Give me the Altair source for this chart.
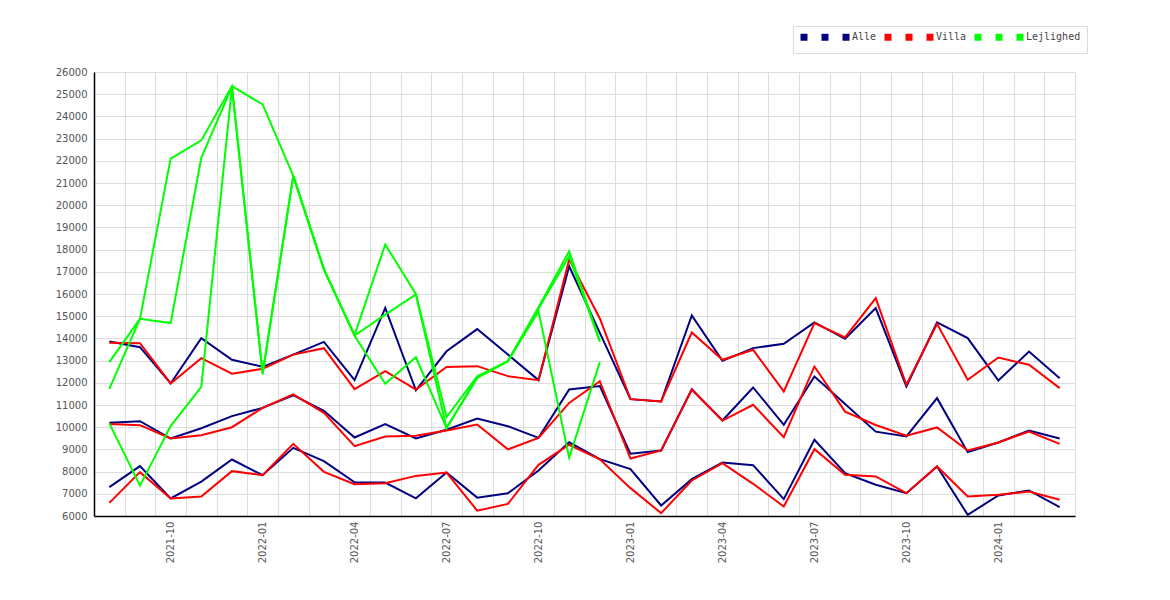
import altair as alt
import pandas as pd

months = [
    "2021-08", "2021-09", "2021-10", "2021-11", "2021-12", "2022-01", "2022-02", "2022-03",
    "2022-04", "2022-05", "2022-06", "2022-07", "2022-08", "2022-09", "2022-10", "2022-11",
    "2022-12", "2023-01", "2023-02", "2023-03", "2023-04", "2023-05", "2023-06", "2023-07",
    "2023-08", "2023-09", "2023-10", "2023-11", "2023-12", "2024-01", "2024-02", "2024-03",
]

alle_top = [13860, 13605, 11970, 14010, 13040, 12720, 13270, 13845, 12120, 15372, 11664, 13420,
            14420, 13270, 12120, 17250, 14250, 11264, 11159, 15033, 12991, 13562, 13757, 14718,
            13982, 15363, 11835, 14718, 14012, 12105, 13411, 12210]
alle_mid = [10196, 10270, 9490, 9955, 10500, 10870, 11440, 10740, 9535, 10141, 9494, 9886,
            10390, 10045, 9519, 11700, 11850, 8802, 8952, 11715, 10300, 11790, 10108, 12285,
            11050, 9800, 9583, 11309, 8877, 9312, 9853, 9492]
alle_low = [7300, 8245, 6790, 7550, 8545, 7840, 9070, 8470, 7515, 7506, 6798, 7958,
            6828, 7024, 8048, 9320, 8560, 8110, 6474, 7661, 8410, 8291, 6760, 9432,
            7931, 7405, 7030, 8231, 6054, 6925, 7150, 6399]

villa_top = [13800, 13785, 11970, 13110, 12410, 12630, 13270, 13560, 11715, 12520, 11694, 12715,
             12750, 12300, 12120, 17550, 14900, 11264, 11159, 14267, 13036, 13487, 11610, 14690,
             14042, 15814, 11910, 14658, 12135, 13141, 12811, 11760]
villa_mid = [10140, 10090, 9490, 9640, 10000, 10870, 11480, 10650, 9145, 9584, 9614, 9855,
             10120, 9000, 9519, 11095, 12070, 8590, 8952, 11685, 10300, 11009, 9553, 12736,
             10700, 10100, 9613, 9988, 8952, 9312, 9808, 9252]
villa_low = [6593, 7975, 6790, 6880, 8020, 7840, 9250, 7990, 7434, 7476, 7807, 7958,
             6241, 6542, 8304, 9210, 8550, 7255, 6129, 7600, 8380, 7450, 6430, 9010,
             7856, 7781, 7030, 8231, 6880, 6955, 7105, 6730]

N = None
lejl_top = [12930, 14880, 22100, 22920, 25360, 24540, 21320, 17110, 14150, 18230, 16000, 10460,
            12290, 12970, 15400, 17930, 13880, N, N, N, N, N, N, N, N, N, N, N, N, N, N, N]
lejl_mid = [11730, 14880, 14690, 22130, 25340, 12450, 21320, 17110, 14130, 15070, 15980, 9960,
            12250, 12970, 15350, 17700, 13850, N, N, N, N, N, N, N, N, N, N, N, N, N, N, N]
lejl_low = [10170, 7370, 10050, 11820, 25320, 12380, 21320, 17110, 14120, 11960, 13150, 9960,
            12220, 12970, 15220, 8630, 12930, N, N, N, N, N, N, N, N, N, N, N, N, N, N, N]

keys = ["A1", "A2", "A3", "V1", "V2", "V3", "L1", "L2", "L3"]
series = {
    "A1": alle_low, "A2": alle_mid, "A3": alle_top,
    "V1": villa_low, "V2": villa_mid, "V3": villa_top,
    "L1": lejl_low, "L2": lejl_mid, "L3": lejl_top,
}
colors = ["#000080"] * 3 + ["#ff0000"] * 3 + ["#00ff00"] * 3
y_ticks = [6000, 7000, 8000, 9000, 10000, 11000, 12000, 13000, 14000, 15000, 16000,
           17000, 18000, 19000, 20000, 21000, 22000, 23000, 24000, 25000, 26000]

rows = []
for k in keys:
    for m, v in zip(months, series[k]):
        rows.append({"month": m, "series": k, "value": v})
df = pd.DataFrame(rows)

x_label_expr = ("indexof(['01','04','07','10'], substring(datum.value, 5, 7)) >= 0 "
                "? datum.value : ''")
legend_label_expr = ("datum.value == 'A3' ? 'Alle' : datum.value == 'V3' ? 'Villa' : "
                     "datum.value == 'L3' ? 'Lejlighed' : '\\u00a0'")

x_enc = alt.X(
    "month:O", sort=months, bandPosition=0.5,
    scale=alt.Scale(type="band", paddingInner=0, paddingOuter=0),
    axis=alt.Axis(title=None, labelAngle=270, labelExpr=x_label_expr, ticks=False,
                  tickBand="extent", grid=True, gridColor="#dddddd", gridWidth=1,
                  domainColor="#000000", domainWidth=1.5, labelColor="#555555",
                  labelFont="DejaVu Sans", labelFontSize=10, labelPadding=5,
                  labelOverlap=False, labelFlush=False),
)
y_enc = alt.Y(
    "value:Q",
    scale=alt.Scale(domain=[6000, 26000], nice=False, zero=False),
    axis=alt.Axis(title=None, values=y_ticks, format="d", tickCount=21,
                  ticks=False, grid=True, gridColor="#dddddd", gridWidth=1,
                  domainColor="#000000", domainWidth=1.5, labelColor="#555555",
                  labelFont="DejaVu Sans", labelFontSize=10, labelPadding=7,
                  labelOverlap=False, labelFlush=False),
)

chart = alt.Chart(df).mark_line(strokeWidth=2, interpolate="linear").encode(
    x=x_enc,
    y=y_enc,
    color=alt.Color(
        "series:N", sort=keys,
        scale=alt.Scale(domain=keys, range=colors),
        legend=alt.Legend(
            title=None, orient="none", legendX=699, legendY=-46,
            direction="horizontal", columns=9, symbolType="square", symbolSize=9,
            symbolStrokeWidth=4, symbolOpacity=1,
            labelExpr=legend_label_expr, labelFont="DejaVu Sans Mono", labelFontSize=10,
            labelColor="#444444", labelOffset=1, columnPadding=1, padding=6,
            strokeColor="#dddddd", fillColor="#ffffff", cornerRadius=0,
        ),
    ),
).properties(
    width=981,
    height=444,
    padding={"left": 86, "top": 64, "right": 70, "bottom": 60},
    autosize=alt.AutoSizeParams(type="none"),
    background="#ffffff",
).configure_view(strokeWidth=0)

chart.save("out.html", embed_options={"renderer": "svg", "actions": False})
